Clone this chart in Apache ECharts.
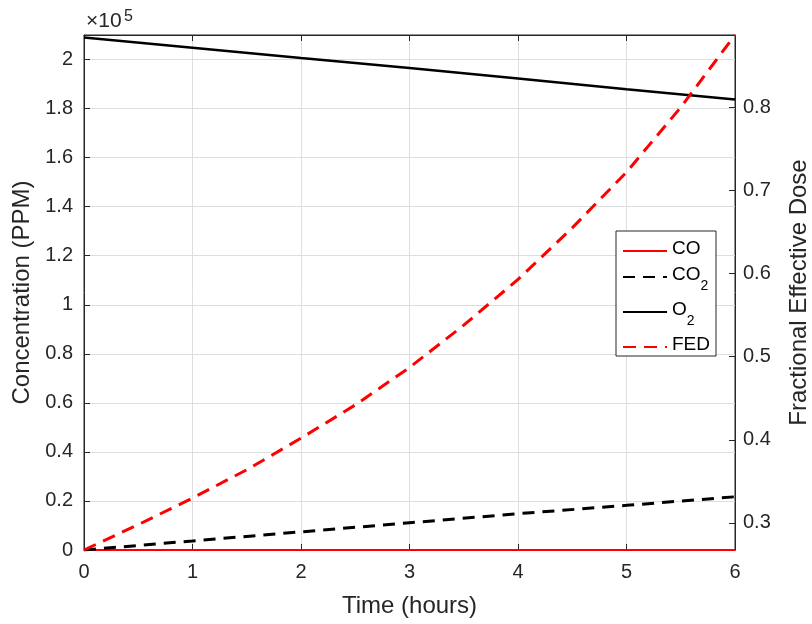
<!DOCTYPE html>
<html>
<head>
<meta charset="utf-8">
<script src="https://cdn.jsdelivr.net/npm/echarts@6/dist/echarts.min.js"></script>
<style>
  html, body { margin: 0; padding: 0; background: #fff; }
  #chart { width: 812px; height: 624px; }
</style>
</head>
<body>
<div id="chart"></div>
<script>
// Gas concentrations (ppm) sampled hourly
const hours = [0, 1, 2, 3, 4, 5, 6];
const co  = [0, 0, 0, 0, 0, 0, 0];
const co2 = [0, 3700, 7400, 11100, 14800, 18200, 21700];
const o2  = [209000, 204800, 200600, 196500, 192300, 187900, 183700];

// Fractional effective dose sampled every half hour
const fedHours = [0, 0.5, 1, 1.5, 2, 2.5, 3, 3.5, 4, 4.5, 5, 5.5, 6];
const fed = [0.2675, 0.298, 0.330, 0.364, 0.402, 0.442, 0.487, 0.538, 0.593, 0.655, 0.722, 0.800, 0.887];

// Tick values
const xTicks = [0, 1, 2, 3, 4, 5, 6];
const fedTicks = [0.3, 0.4, 0.5, 0.6, 0.7, 0.8];

const FONT = '"Liberation Sans", Arial, Helvetica, sans-serif';
const INK = '#262626';
const GRID = '#dedede';

const pairs = (xs, ys) => xs.map((x, i) => [x, ys[i]]);

const legendRich = {
  n: { fontFamily: FONT, fontSize: 19, color: '#000', lineHeight: 24, verticalAlign: 'top' },
  s: { fontFamily: FONT, fontSize: 14, color: '#000', lineHeight: 14, padding: [14, 0, 0, 0], verticalAlign: 'top' }
};

const axisLine = { show: true, onZero: false, lineStyle: { color: INK, width: 1 } };
const axisTick = { show: true, inside: true, length: 6, lineStyle: { color: INK } };

const chart = echarts.init(document.getElementById('chart'), null, { renderer: 'canvas' });

chart.setOption({
  animation: false,
  backgroundColor: '#fff',
  textStyle: { fontFamily: FONT },
  grid: {
    left: 84, right: 77, top: 35, bottom: 74,
    outerBoundsMode: 'none', containLabel: false,
    show: true, borderColor: INK, borderWidth: 1, backgroundColor: 'transparent'
  },
  graphic: [
    { type: 'text', left: 86, top: 11, style: { text: '×10', font: '21px ' + FONT, fill: INK } },
    { type: 'text', left: 124, top: 9, style: { text: '5', font: '16px ' + FONT, fill: INK } }
  ],
  legend: {
    orient: 'vertical',
    left: 616, top: 231,
    padding: [8, 6, 2, 6],
    itemGap: 7,
    itemWidth: 44,
    itemHeight: 14,
    backgroundColor: '#fff',
    borderColor: INK,
    borderWidth: 1,
    borderRadius: 0,
    itemStyle: { opacity: 0 },
    data: ['CO', 'CO2', 'O2', 'FED'],
    formatter: function (name) {
      if (name === 'CO2') return '{n|CO}{s|2}';
      if (name === 'O2') return '{n|O}{s|2}';
      return '{n|' + name + '}';
    },
    textStyle: { rich: legendRich }
  },
  xAxis: [
    {
      type: 'value', min: 0, max: 6, interval: 1,
      name: 'Time (hours)', nameLocation: 'middle', nameGap: 44,
      nameTextStyle: { fontFamily: FONT, fontSize: 24, color: INK },
      axisLine: axisLine,
      axisTick: axisTick,
      axisLabel: { fontFamily: FONT, fontSize: 20, color: INK, margin: 12,
        customValues: xTicks, formatter: v => String(v) },
      splitLine: { show: true, lineStyle: { color: GRID, width: 1 } }
    },
    {
      type: 'value', min: 0, max: 6, interval: 1, position: 'top',
      axisLine: axisLine,
      axisTick: axisTick,
      axisLabel: { show: false },
      splitLine: { show: false }
    }
  ],
  yAxis: [
    {
      type: 'value', min: 0, max: 210000, interval: 20000, position: 'left',
      name: 'Concentration (PPM)', nameLocation: 'middle', nameGap: 41, nameRotate: 90,
      nameTextStyle: { fontFamily: FONT, fontSize: 24, color: INK },
      axisLine: axisLine,
      axisTick: axisTick,
      axisLabel: {
        fontFamily: FONT, fontSize: 20, color: INK, margin: 11,
        showMaxLabel: false,
        formatter: v => String(+(v / 1e5).toFixed(1))
      },
      splitLine: { show: true, lineStyle: { color: GRID, width: 1 } }
    },
    {
      type: 'value', min: 'dataMin', max: 'dataMax', position: 'right',
      name: 'Fractional Effective Dose', nameLocation: 'middle', nameGap: 52, nameRotate: 90,
      nameTextStyle: { fontFamily: FONT, fontSize: 24, color: INK },
      axisLine: axisLine,
      axisTick: axisTick,
      axisLabel: { fontFamily: FONT, fontSize: 20, color: INK, margin: 8,
        customValues: fedTicks, formatter: v => v.toFixed(1) },
      splitLine: { show: false }
    }
  ],
  series: [
    {
      name: 'CO', type: 'line', xAxisIndex: 0, yAxisIndex: 0,
      data: pairs(hours, co), symbol: 'none', clip: false,
      lineStyle: { color: '#ff0000', width: 2, type: 'solid' },
      itemStyle: { color: '#ff0000' }
    },
    {
      name: 'CO2', type: 'line', xAxisIndex: 0, yAxisIndex: 0,
      data: pairs(hours, co2), symbol: 'none',
      lineStyle: { color: '#000', width: 3, type: [12, 8] },
      itemStyle: { color: '#000' }
    },
    {
      name: 'O2', type: 'line', xAxisIndex: 0, yAxisIndex: 0,
      data: pairs(hours, o2), symbol: 'none',
      lineStyle: { color: '#000', width: 2.5, type: 'solid' },
      itemStyle: { color: '#000' }
    },
    {
      name: 'FED', type: 'line', xAxisIndex: 0, yAxisIndex: 1,
      data: pairs(fedHours, fed), symbol: 'none',
      lineStyle: { color: '#ff0000', width: 3, type: [13, 8] },
      itemStyle: { color: '#ff0000' }
    }
  ]
});
</script>
</body>
</html>
